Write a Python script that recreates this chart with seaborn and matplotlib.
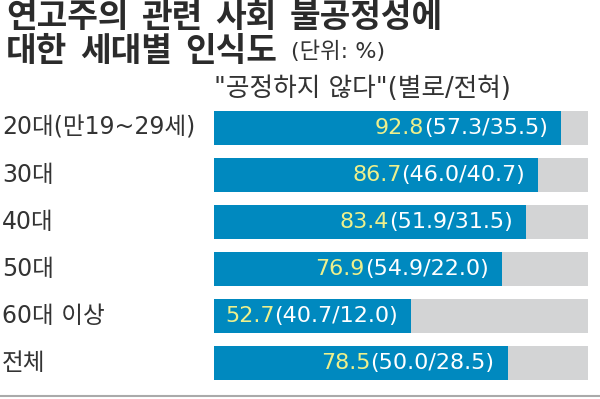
import matplotlib
matplotlib.use("Agg")
import matplotlib.pyplot as plt
import seaborn as sns
import pandas as pd

ages = ["20대(만19~29세)", "30대", "40대", "50대", "60대 이상", "전체"]
total = [92.8, 86.7, 83.4, 76.9, 52.7, 78.5]
not_very = [57.3, 46.0, 51.9, 54.9, 40.7, 50.0]
not_at_all = [35.5, 40.7, 31.5, 22.0, 12.0, 28.5]
full = [100] * len(ages)

title_1 = ["연고주의", "관련", "사회", "불공정성에"]
title_2 = ["대한", "세대별", "인식도"]

df = pd.DataFrame({"age": ages, "total": total, "full": full})

sns.set_theme(style="white")
plt.rcParams["font.family"] = ["Noto Sans CJK KR", "DejaVu Sans"]
mixed = ["DejaVu Sans", "Noto Sans CJK KR"]

blue = "#0089bf"
gray = "#d3d4d5"
yellow = "#eef08c"
ink = "#2b2b2b"

fig = plt.figure(figsize=(6, 3.99), dpi=100)
ax = fig.add_axes([214 / 600, 1 - 386.5 / 399, 374 / 600, 282 / 399])

sns.barplot(data=df, y="age", x="full", color=gray, width=0.73, orient="h",
            saturation=1, ax=ax)
sns.barplot(data=df, y="age", x="total", color=blue, width=0.73, orient="h",
            saturation=1, ax=ax)
for p in ax.patches:
    p.set_edgecolor("none")

ax.set_xlim(0, 100)
ax.set_ylim(5.5, -0.5)
ax.axis("off")

for i, (t, a, b) in enumerate(zip(total, not_very, not_at_all)):
    w = ax.annotate(f"({a:.1f}/{b:.1f})", xy=(t, i), xytext=(-13, 0),
                    textcoords="offset pixels", ha="right", va="center",
                    color="white", fontsize=16, family=mixed)
    ax.annotate(f"{t:.1f}", xy=(0, 0.5), xycoords=w, ha="right", va="center",
                color=yellow, fontsize=16, family=mixed)
    fig.text(2 / 600, 1 - (128 + i * 47) / 399, ages[i], ha="left", va="center",
             fontsize=17, color="#333333", family=mixed)


# title, word by word: the original lettering is wide, so gaps are set by hand
def place_words(words, x, y, gap=13):
    prev = None
    for wd in words:
        if prev is None:
            prev = fig.text(x / 600, 1 - y / 399, wd, ha="left", va="center",
                            fontsize=24, fontweight="bold", color=ink)
        else:
            prev = plt.annotate(wd, xy=(1, 0.5), xycoords=prev, xytext=(gap, 0),
                                textcoords="offset pixels", ha="left", va="center",
                                fontsize=24, fontweight="bold", color=ink,
                                annotation_clip=False)
    return prev


place_words(title_1, 6, 18)
last = place_words(title_2, 6, 51.5)
plt.annotate("(단위: %)", xy=(1, 0.5), xycoords=last, xytext=(14, 0),
             textcoords="offset pixels", ha="left", va="center",
             fontsize=16, color="#333333", family=mixed, annotation_clip=False)
fig.text(214 / 600, 1 - 89 / 399, "\"공정하지 않다\"(별로/전혀)", ha="left", va="center",
         fontsize=18.5, color="#333333", family=mixed)

fig.add_artist(plt.Line2D([0, 1], [1 - 396 / 399] * 2, color="#aaaaaa", lw=1.5))

fig.savefig("out.png", dpi=100, facecolor="white")
